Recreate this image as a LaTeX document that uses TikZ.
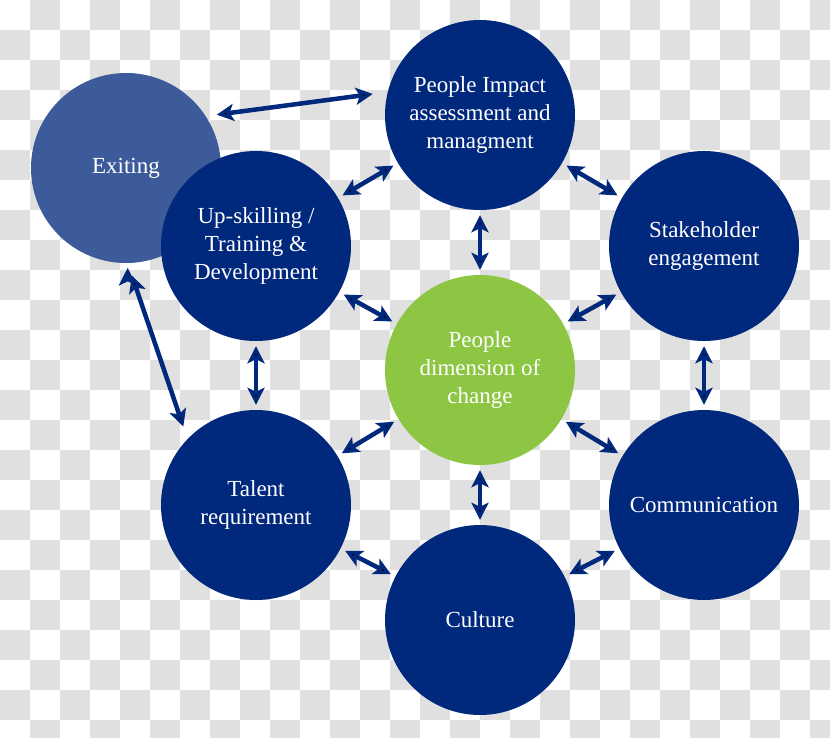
\documentclass[tikz,border=0pt]{standalone}
\usepackage{fontspec}
\setmainfont{Liberation Serif}
\usetikzlibrary{arrows.meta,positioning}
\definecolor{navy}{RGB}{0,40,124}
\definecolor{exitblue}{RGB}{61,90,154}
\definecolor{leafgreen}{RGB}{141,198,67}
\definecolor{checkgray}{RGB}{224,224,224}

\begin{document}
\begin{tikzpicture}[x=1pt,y=-1pt,on grid,>={Stealth[length=17pt,width=17pt,inset=4pt]}]
\tikzstyle{topic node}=[circle,fill=navy,minimum size=190pt,inner sep=0pt,text=white,align=center,font=\fontsize{23}{28}\selectfont]
\tikzstyle{exit node}=[topic node,fill=exitblue]
\tikzstyle{core node}=[topic node,fill=leafgreen]

\tikzset{
	link/.style={<->,draw=navy,line width=4.5pt,shorten <=5pt,shorten >=5pt}
}

% checkerboard background
\useasboundingbox (0,0) rectangle (830,737);
\fill[white] (0,0) rectangle (830,737);
\begin{scope}
  \clip (0,0) rectangle (830,737);
  \foreach \i in {0,...,27}
    \foreach \j in {0,...,24}{
      \pgfmathparse{int(mod(\i+\j,2))}
      \ifnum\pgfmathresult=1 \fill[checkgray] (30*\i,30*\j) rectangle ++(30,30); \fi
    }
\end{scope}

    \node[core node] (core) at (480,370) {People\\dimension of\\change};
    \node[exit node] (exit) [above left=202pt and 354pt of core] {Exiting};
    \node[topic node] (impact) [above=255pt of core] {People Impact\\assessment and\\managment};
    \node[topic node] (skill) [above left=124pt and 224pt of core] {Up-skilling /\\Training \&\\Development};
    \node[topic node] (stake) [above right=124pt and 224pt of core] {Stakeholder\\engagement};
    \node[topic node] (talent) [below left=135pt and 224pt of core] {Talent\\requirement};
    \node[topic node] (comm) [below right=135pt and 224pt of core] {Communication};
    \node[topic node] (culture) [below=250pt of core] {Culture};

    \path[link] (exit.33) edge[shorten <=11pt,shorten >=15pt] (impact.166)
                (exit.-89) edge[shorten <=13pt,shorten >=13pt] (talent.136)
                (skill) edge (impact)
                (skill) edge (core)
                (skill) edge (talent)
                (impact) edge (core)
                (impact) edge (stake)
                (stake) edge (core)
                (stake) edge (comm)
                (core) edge (talent)
                (core) edge (comm)
                (core) edge (culture)
                (talent) edge (culture)
                (culture) edge (comm);
\end{tikzpicture}
\end{document}
